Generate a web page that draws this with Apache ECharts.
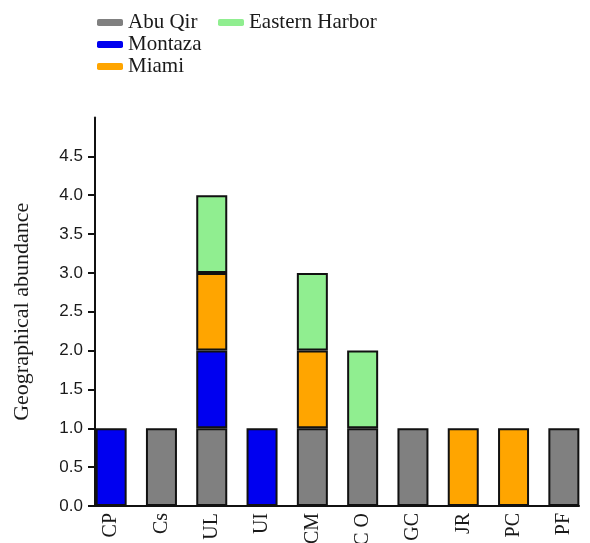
<!DOCTYPE html>
<html>
<head>
<meta charset="utf-8">
<script src="https://cdn.jsdelivr.net/npm/echarts@6/dist/echarts.min.js"></script>
<style>html,body{margin:0;padding:0;background:#fff;}#c{width:590px;height:543px;}</style>
</head>
<body>
<div id="c"></div>
<script>
var categories = ['CP', 'Cs', 'UL', 'UI', 'CM', 'C O', 'GC', 'JR', 'PC', 'PF'];
var abuQir  = [null, 1, 1, null, 1, 1, 1, null, null, 1];
var montaza = [1, null, 1, 1, null, null, null, null, null, null];
var miami   = [null, null, 1, null, 1, null, null, 1, 1, null];
var eastern = [null, null, 1, null, 1, 1, null, null, null, null];
var yTicks = [0, 0.5, 1, 1.5, 2, 2.5, 3, 3.5, 4, 4.5];

var serif = 'Liberation Serif';
var chart = echarts.init(document.getElementById('c'));
function bar(name, arr, color) {
  return {
    name: name, type: 'bar', stack: 'total', barWidth: 31,
    xAxisIndex: 0, yAxisIndex: 0,
    data: arr,
    itemStyle: { color: color, borderColor: '#111', borderWidth: 2 }
  };
}
var legendBase = {
  orient: 'vertical', top: 7, itemGap: 1,
  itemWidth: 26, itemHeight: 7, icon: 'roundRect',
  itemStyle: { borderWidth: 0 },
  textStyle: { fontFamily: serif, fontSize: 21, color: '#1a1a1a', lineHeight: 20 }
};
chart.setOption({
  animation: false,
  backgroundColor: '#fff',
  legend: [
    Object.assign({}, legendBase, { left: 92, data: ['Abu Qir', 'Montaza', 'Miami'] }),
    Object.assign({}, legendBase, { left: 213, data: ['Eastern Harbor'] })
  ],
  grid: [
    { left: 86, top: 117.5, width: 503, height: 388.5, outerBoundsMode: 'none', containLabel: false },
    { left: 95, top: 117.5, width: 484, height: 388.5, outerBoundsMode: 'none', containLabel: false }
  ],
  xAxis: [{
    type: 'category', gridIndex: 0, data: categories,
    axisLine: { show: false },
    axisTick: { show: false },
    axisLabel: {
      interval: 0, rotate: 90, margin: 7,
      fontFamily: serif, fontSize: 20, color: '#1a1a1a'
    }
  }, {
    type: 'value', gridIndex: 1, min: 0, max: 1,
    splitLine: { show: false },
    axisLine: { onZero: false, lineStyle: { color: '#111', width: 2 } },
    axisTick: { show: false },
    axisLabel: { show: false }
  }],
  yAxis: [{
    type: 'value', gridIndex: 0, min: 0, max: 5, show: false,
    splitLine: { show: false }
  }, {
    type: 'value', gridIndex: 1, min: 0, max: 5, interval: 0.5,
    name: 'Geographical abundance', nameLocation: 'middle', nameGap: 62,
    nameTextStyle: { fontFamily: serif, fontSize: 22, color: '#1a1a1a' },
    splitLine: { show: false },
    axisLine: { show: true, onZero: false, lineStyle: { color: '#111', width: 2 } },
    axisTick: { show: true, customValues: yTicks, length: 7, lineStyle: { color: '#111', width: 2 } },
    axisLabel: {
      customValues: yTicks,
      formatter: function (v) { return v.toFixed(1); },
      margin: 12,
      fontFamily: 'Liberation Sans', fontSize: 17, color: '#1a1a1a'
    }
  }],
  series: [
    bar('Abu Qir', abuQir, '#808080'),
    bar('Montaza', montaza, '#0000f0'),
    bar('Miami', miami, '#ffa500'),
    bar('Eastern Harbor', eastern, '#90ee90')
  ]
});
</script>
</body>
</html>
